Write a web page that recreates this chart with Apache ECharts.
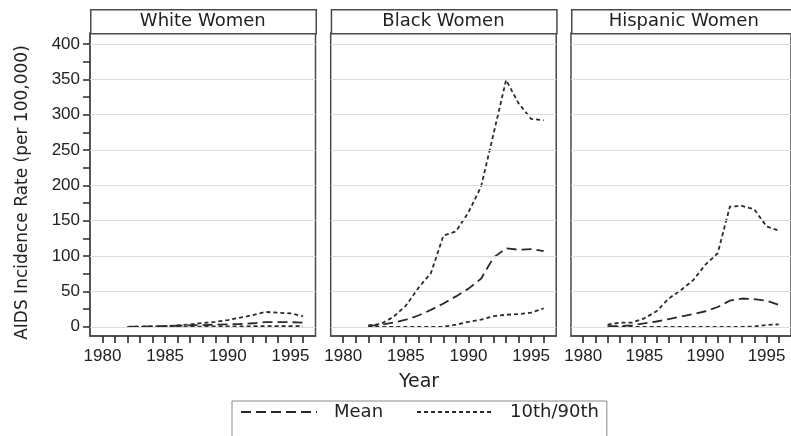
<!DOCTYPE html>
<html>
<head>
<meta charset="utf-8">
<script src="https://cdn.jsdelivr.net/npm/echarts@6/dist/echarts.min.js"></script>
<style>
  html, body { margin: 0; padding: 0; background: #fff; }
  #chart { width: 791px; height: 436px; }
</style>
</head>
<body>
<div id="chart"></div>
<script>
// Annual AIDS incidence among women, 1982-1996, by group
const years = [1982, 1983, 1984, 1985, 1986, 1987, 1988, 1989, 1990, 1991, 1992, 1993, 1994, 1995, 1996];

const panelTitles = ['White Women', 'Black Women', 'Hispanic Women'];

const whiteMean = [0, 0.3, 0.6, 1, 1.5, 2, 2.5, 3, 3.5, 4, 5, 6.5, 6.5, 6.5, 6];
const whiteP90  = [0, 0.3, 0.6, 1, 2, 3.5, 5.5, 7, 9.5, 13, 16.5, 21, 20, 19, 15];
const whiteP10  = [0, 0, 0, 0, 0, 0, 0.3, 0.5, 0.5, 0.5, 0.8, 1, 1, 1, 1];

const blackMean = [1, 3, 6, 10, 16, 24, 33, 43, 54, 68, 98, 111, 109, 110, 107];
const blackP90  = [2, 4, 14, 30, 55, 76, 129, 135, 162, 198, 273, 349, 316, 294, 292];
const blackP10  = [0, 0, 0, 0, 0, 0, 0, 3, 7, 10, 15, 17, 18, 20, 26];

const hispMean = [1, 1, 2, 5, 7.5, 11, 14.5, 18, 22, 28, 37, 40, 39, 37, 31];
const hispP90  = [3, 6, 6, 12, 22, 40, 52, 66, 88, 104, 170, 171, 166, 142, 136];
const hispP10  = [0, 0, 0, 0, 0, 0, 0, 0, 0, 0, 0, 0, 0.5, 2.5, 3.5];

const yTickValues  = [0, 25, 50, 75, 100, 125, 150, 175, 200, 225, 250, 275, 300, 325, 350, 375, 400];
const yLabelValues = [0, 50, 100, 150, 200, 250, 300, 350, 400];

const panels = [
  { title: panelTitles[0], mean: whiteMean, p90: whiteP90, p10: whiteP10 },
  { title: panelTitles[1], mean: blackMean, p90: blackP90, p10: blackP10 },
  { title: panelTitles[2], mean: hispMean, p90: hispP90, p10: hispP10 }
];

const INK = '#2b2b2b';
const FRAME = '#4a4a4a';
const TICK = '#2a2a2a';
const SANS = '"DejaVu Sans", sans-serif';
const TICKFONT = '"Liberation Sans", Arial, sans-serif';

const panelLeft = [90, 330.7, 571];
const panelWidth = 225.5;
const plotTop = 33;
const plotHeight = 303;
const headerTop = 9;

const pairs = (vals) => years.map((y, i) => [y, vals[i]]);
const plain = (v) => String(v);
const everyFifth = (v) => (v % 5 === 0 ? String(v) : '');

const grids = [], xAxes = [], yAxes = [], series = [], graphics = [];

panels.forEach((p, i) => {
  grids.push({
    left: panelLeft[i], top: plotTop, width: panelWidth, height: plotHeight,
    show: true, borderColor: FRAME, borderWidth: 1.5, backgroundColor: '#fff'
  });
  xAxes.push({
    type: 'value', gridIndex: i, min: 1979, max: 1997, interval: 1,
    axisLine: { show: true, onZero: false, lineStyle: { color: FRAME, width: 1.5 } },
    axisTick: { show: true, length: 7, lineStyle: { color: TICK, width: 1.6 } },
    axisLabel: { show: true, formatter: everyFifth, showMinLabel: false, showMaxLabel: false,
                 margin: 12, fontSize: 17, fontFamily: TICKFONT, color: '#222' },
    splitLine: { show: false }
  });
  yAxes.push({
    type: 'value', gridIndex: i, min: -13, max: 415.5,
    axisLine: { show: i === 0, lineStyle: { color: FRAME, width: 1.5 } },
    axisTick: { show: i === 0, length: 7, customValues: yTickValues, lineStyle: { color: TICK, width: 1.5 } },
    axisLabel: { show: i === 0, customValues: yLabelValues, formatter: plain, margin: 10, fontSize: 17, fontFamily: TICKFONT, color: '#222' },
    splitLine: { show: false }
  });

  const lineBase = { type: 'line', xAxisIndex: i, yAxisIndex: i, showSymbol: false, symbol: 'none', smooth: false, silent: true };

  series.push(Object.assign({}, lineBase, {
    name: '10th/90th', data: pairs(p.p10),
    lineStyle: { color: INK, width: 1.8, type: [4, 3] },
    itemStyle: { color: INK },
    markLine: {
      silent: true, symbol: ['none', 'none'], label: { show: false }, animation: false,
      lineStyle: { color: '#dcdcdc', type: 'solid', width: 1 },
      emphasis: { disabled: true },
      data: yLabelValues.map(v => ({ yAxis: v }))
    }
  }));
  series.push(Object.assign({}, lineBase, {
    name: 'Mean', data: pairs(p.mean),
    lineStyle: { color: INK, width: 1.8, type: [10, 5] },
    itemStyle: { color: INK }
  }));
  series.push(Object.assign({}, lineBase, {
    name: '10th/90th', data: pairs(p.p90),
    lineStyle: { color: INK, width: 1.8, type: [4, 3] },
    itemStyle: { color: INK }
  }));

  // panel header strip
  graphics.push({
    type: 'rect', left: panelLeft[i], top: headerTop, z: 10,
    shape: { x: 0, y: 0, width: panelWidth, height: plotTop - headerTop },
    style: { fill: '#fff', stroke: FRAME, lineWidth: 1.5 }
  });
  graphics.push({
    type: 'text', x: panelLeft[i] + panelWidth / 2, y: (headerTop + plotTop) / 2 + 0.5, z: 11,
    style: { text: p.title, fill: '#222', font: '18px ' + SANS, align: 'center', verticalAlign: 'middle' }
  });
});

// axis titles
graphics.push({
  type: 'text', x: 22.5, y: 192.5, rotation: Math.PI / 2, z: 11,
  style: { text: 'AIDS Incidence Rate (per 100,000)', fill: '#222', font: '17px ' + SANS, align: 'center', verticalAlign: 'middle' }
});
graphics.push({
  type: 'text', x: 419, y: 382, z: 11,
  style: { text: 'Year', fill: '#222', font: '19px ' + SANS, align: 'center', verticalAlign: 'middle' }
});

const chart = echarts.init(document.getElementById('chart'), null, { renderer: 'canvas' });
chart.setOption({
  animation: false,
  backgroundColor: '#fff',
  grid: grids,
  xAxis: xAxes,
  yAxis: yAxes,
  series: series,
  graphic: graphics,
  legend: {
    data: ['Mean', '10th/90th'],
    left: 232, top: 401,
    orient: 'horizontal',
    itemWidth: 76, itemHeight: 14, itemGap: 33,
    padding: [2, 8, 30, 8],
    borderColor: '#8a8a8a', borderWidth: 1, backgroundColor: '#fff',
    selectedMode: false,
    itemStyle: { opacity: 0 },
    formatter: '{t|{name}}',
    textStyle: {
      color: '#222', fontSize: 18, fontFamily: SANS,
      rich: { t: { padding: [0, 0, 0, 12], fontSize: 18, fontFamily: SANS, color: '#222' } }
    }
  }
});
</script>
</body>
</html>
